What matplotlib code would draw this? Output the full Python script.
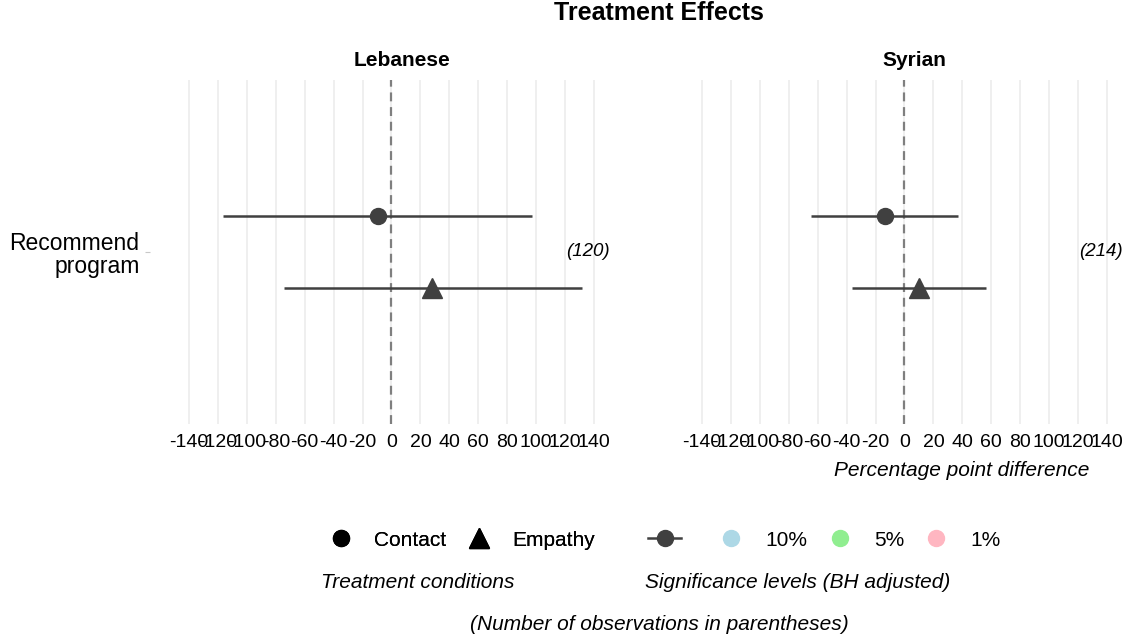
import matplotlib
matplotlib.use("Agg")
import matplotlib.pyplot as plt
from matplotlib.lines import Line2D

plt.rcParams['font.family'] = ['Liberation Sans', 'DejaVu Sans']
plt.rcParams['axes.unicode_minus'] = False

# estimates and 95% intervals, percentage points
groups = ["Lebanese", "Syrian"]
n_obs = [120, 214]
outcome = "Recommend\nprogram"
treatments = ["Contact", "Empathy"]
est = {"Lebanese": [-9.6, 28.0], "Syrian": [-13.8, 9.9]}
lo = {"Lebanese": [-116.5, -74.6], "Syrian": [-64.3, -36.5]}
hi = {"Lebanese": [97.2, 131.6], "Syrian": [36.8, 56.4]}
sig_labels = ["10%", "5%", "1%"]
sig_colors = ["#add8e6", "#90ee90", "#ffb6c1"]

markers = {"Contact": "o", "Empathy": "^"}
msizes = {"Contact": 11.5, "Empathy": 14}
dodge = {"Contact": -0.125, "Empathy": 0.125}
dark = "#404040"

W, H = 1129, 640
fig = plt.figure(figsize=(W / 100, H / 100), dpi=100)

panel_bottom = (H - 424) / H
panel_h = 344 / H
lefts = [150, 663]

for i, g in enumerate(groups):
    ax = fig.add_axes([lefts[i] / W, panel_bottom, 466 / W, panel_h])
    ax.set_xlim(-167, 155.3)
    ax.set_ylim(1.6, 0.4)
    for sp in ax.spines.values():
        sp.set_visible(False)
    ax.set_xticks(range(-140, 141, 20))
    ax.grid(axis="x", color="#ebebeb", lw=1.1)
    ax.set_axisbelow(True)
    ax.tick_params(axis="x", length=0, pad=7, labelsize=14, labelcolor="black")
    ax.set_yticks([1])
    if i == 0:
        ax.set_yticklabels([outcome], fontsize=16.5, linespacing=1.05)
        ax.tick_params(axis="y", length=3.5, color="#c8c8c8", pad=4)
    else:
        ax.set_yticklabels([""])
        ax.tick_params(axis="y", length=0)

    ax.axvline(0, color="#7f7f7f", lw=1.6, ls=(0, (4, 2.6)), zorder=1)

    for j, t in enumerate(treatments):
        y = 1 + dodge[t]
        ax.plot([lo[g][j], hi[g][j]], [y, y], color=dark, lw=1.8,
                solid_capstyle="butt", zorder=2)
        ax.plot(est[g][j], y, marker=markers[t], ms=msizes[t], color=dark,
                ls="none", zorder=3)

    ax.text(136, 1, "(%d)" % n_obs[i], style="italic", fontsize=13.5,
            ha="center", va="center")
    ax.text(0.54, 1 + 20 / 344, g, transform=ax.transAxes, fontsize=15,
            fontweight="bold", ha="center", va="center")

fig.text(659 / W, 1 - 13 / H, "Treatment Effects", fontsize=18,
         fontweight="bold", ha="center", va="center")
fig.text(962 / W, 1 - 471 / H, "Percentage point difference",
         style="italic", fontsize=15, ha="center", va="center")

# legends
leg_y = 1 - 540 / H
h1 = [Line2D([], [], marker="o", color="black", ls="none", ms=11.5),
      Line2D([], [], marker="^", color="black", ls="none", ms=14)]
leg1 = fig.legend(h1, treatments, loc="center left",
                  bbox_to_anchor=(330.5 / W, leg_y), ncol=2, frameon=False,
                  fontsize=15, handlelength=1.0, handletextpad=1.09,
                  columnspacing=1.09, borderpad=0, borderaxespad=0)

h2 = [Line2D([], [], marker="o", color=dark, lw=1.8, ms=11.5)]
h2 += [Line2D([], [], marker="o", color=c, ls="none", ms=11.5)
       for c in sig_colors]
leg2 = fig.legend(h2, [""] + sig_labels, loc="center left",
                  bbox_to_anchor=(648 / W, leg_y), ncol=4, frameon=False,
                  fontsize=15, handlelength=1.6, handletextpad=0.84,
                  columnspacing=0.75, borderpad=0, borderaxespad=0)
fig.add_artist(leg1)

fig.text(418 / W, 1 - 582 / H, "Treatment conditions", style="italic",
         fontsize=15, ha="center", va="center")
fig.text(798 / W, 1 - 582 / H, "Significance levels (BH adjusted)",
         style="italic", fontsize=15, ha="center", va="center")
fig.text(659 / W, 1 - 625 / H, "(Number of observations in parentheses)",
         style="italic", fontsize=15, ha="center", va="center")

fig.savefig("out.png", dpi=100, facecolor="white")
